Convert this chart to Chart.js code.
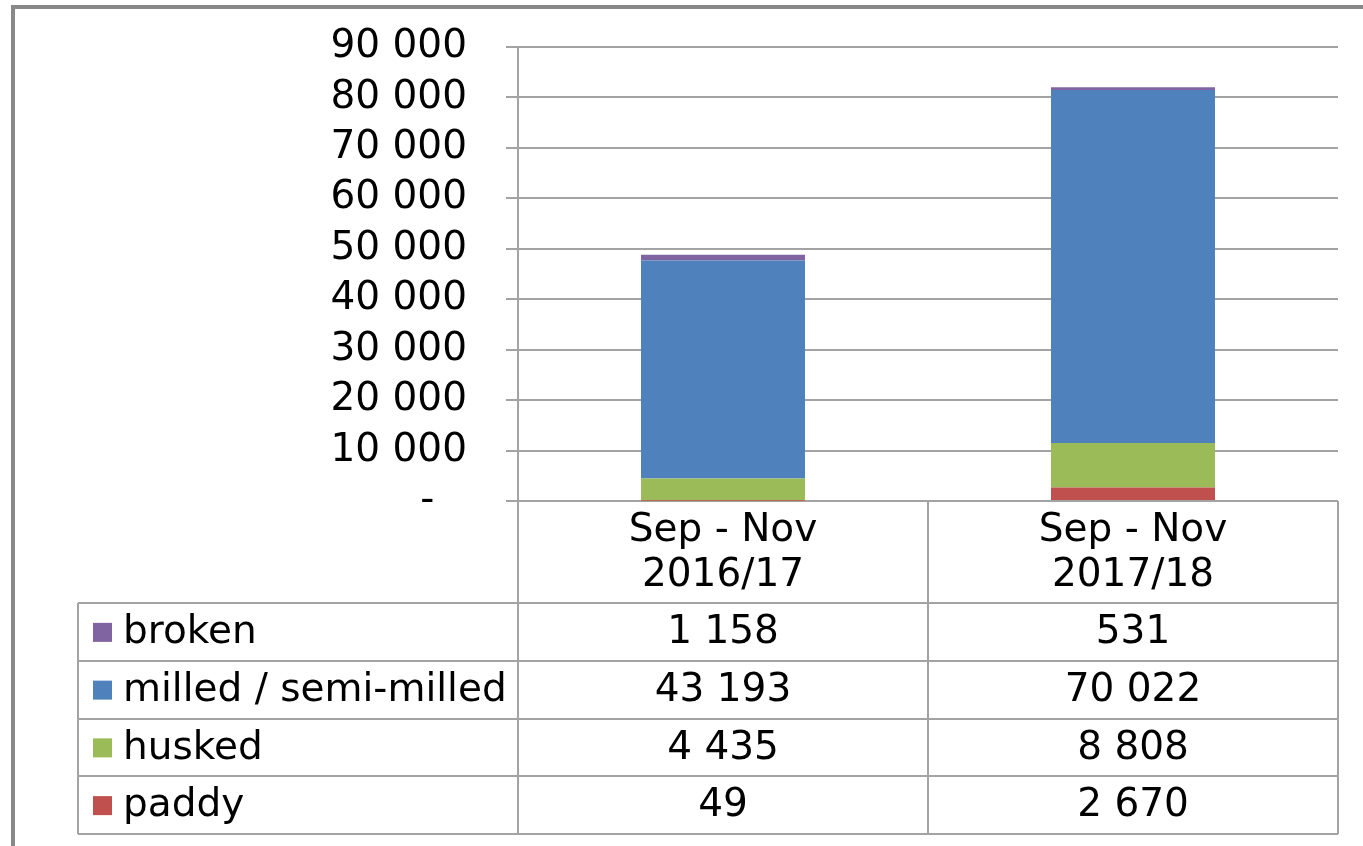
<!DOCTYPE html>
<html>
<head>
<meta charset="utf-8">
<script src="https://cdn.jsdelivr.net/npm/chart.js@4/dist/chart.umd.min.js"></script>
<style>
html,body{margin:0;padding:0;background:#fff;}
#wrap{width:1363px;height:846px;position:relative;}
</style>
</head>
<body>
<div id="wrap"><canvas id="c" width="1363" height="846"></canvas></div>
<script>
const categories = [['Sep - Nov', '2016/17'], ['Sep - Nov', '2017/18']];
const seriesNames = ['paddy', 'husked', 'milled / semi-milled', 'broken'];
const paddy = [49, 2670];
const husked = [4435, 8808];
const milled = [43193, 70022];
const broken = [1158, 531];
const yTicks = [0, 10000, 20000, 30000, 40000, 50000, 60000, 70000, 80000, 90000];

const colors = ['#C0504D', '#9BBB59', '#4F81BD', '#8064A2'];
const FONT = '"DejaVu Sans", Verdana, sans-serif';
const FS = 39;
const LINE = '#a3a3a3';

function fmt(v) {
  return String(v).replace(/\B(?=(\d{3})+(?!\d))/g, ' ');
}

const seriesValues = [paddy, husked, milled, broken];

const tablePlugin = {
  id: 'tablePlugin',
  beforeDraw(chart) {
    const ctx = chart.ctx;
    ctx.save();
    ctx.fillStyle = '#fff';
    ctx.fillRect(0, 0, chart.width, chart.height);
    ctx.strokeStyle = '#888';
    ctx.lineWidth = 4;
    ctx.strokeRect(13, 7, chart.width + 20, chart.height + 20);
    ctx.restore();
  },
  afterDraw(chart) {
    const ctx = chart.ctx;
    const ca = chart.chartArea;
    const xs = chart.scales.x;
    const half = (xs.getPixelForValue(1) - xs.getPixelForValue(0)) / 2;
    const colEdges = [ca.left];
    for (let i = 0; i < categories.length; i++) colEdges.push(xs.getPixelForValue(i) + half);
    const tableLeft = 78;
    const headerBottom = 603;
    const rowH = 57.75;
    const nRows = seriesNames.length;
    const tableBottom = headerBottom + rowH * nRows;
    ctx.save();
    ctx.strokeStyle = LINE;
    ctx.lineWidth = 2;
    ctx.beginPath();
    for (let r = 0; r <= nRows; r++) {
      const y = Math.round(headerBottom + r * rowH);
      ctx.moveTo(tableLeft, y);
      ctx.lineTo(ca.right, y);
    }
    ctx.moveTo(tableLeft, headerBottom);
    ctx.lineTo(tableLeft, tableBottom);
    ctx.moveTo(ca.left, ca.top);
    ctx.lineTo(ca.left, tableBottom);
    for (let i = 1; i < colEdges.length; i++) {
      ctx.moveTo(colEdges[i], ca.bottom);
      ctx.lineTo(colEdges[i], tableBottom);
    }
    ctx.stroke();

    ctx.font = FS + 'px ' + FONT;
    ctx.fillStyle = '#000';
    ctx.textBaseline = 'middle';
    for (let r = 0; r < nRows; r++) {
      const s = nRows - 1 - r;
      const yc = headerBottom + r * rowH + rowH / 2;
      ctx.fillStyle = colors[s];
      ctx.fillRect(93, yc - 9, 19, 19);
      ctx.fillStyle = '#000';
      ctx.textAlign = 'left';
      ctx.fillText(seriesNames[s], 123, yc + 1);
      ctx.textAlign = 'center';
      for (let i = 0; i < categories.length; i++) {
        ctx.fillText(fmt(seriesValues[s][i]), xs.getPixelForValue(i), yc + 1);
      }
    }
    ctx.restore();
  }
};

const datasets = seriesNames.map((name, i) => ({
  label: name,
  data: seriesValues[i],
  backgroundColor: colors[i],
  borderWidth: 0,
  categoryPercentage: 1,
  barPercentage: 0.4
}));

new Chart(document.getElementById('c'), {
  type: 'bar',
  data: { labels: categories, datasets },
  options: {
    responsive: false,
    animation: false,
    layout: { padding: { left: 0, right: 25, top: 47, bottom: 0 } },
    plugins: { legend: { display: false }, tooltip: { enabled: false } },
    scales: {
      x: {
        stacked: true,
        offset: true,
        grid: { display: false, drawTicks: false },
        border: { display: false },
        ticks: {
          color: '#000',
          font: { family: FONT, size: FS, lineHeight: 1.16 },
          padding: 7,
          maxRotation: 0,
          autoSkip: false
        },
        afterFit(scale) { scale.height = 345; scale.paddingLeft = 0; scale.paddingRight = 0; }
      },
      y: {
        stacked: true,
        min: 0,
        max: 90000,
        afterBuildTicks(scale) { scale.ticks = yTicks.map(v => ({ value: v })); },
        grid: { color: LINE, lineWidth: 2, tickLength: 12, drawTicks: true },
        border: { display: true, color: LINE, width: 2 },
        ticks: {
          color: '#000',
          font: { family: FONT, size: FS },
          padding: 39,
          autoSkip: false,
          callback: v => v === 0 ? '-\u2007\u2009' : fmt(v)
        },
        afterFit(scale) { scale.width = 518; scale.paddingTop = 0; scale.paddingBottom = 0; }
      }
    }
  },
  plugins: [tablePlugin]
});
</script>
</body>
</html>
